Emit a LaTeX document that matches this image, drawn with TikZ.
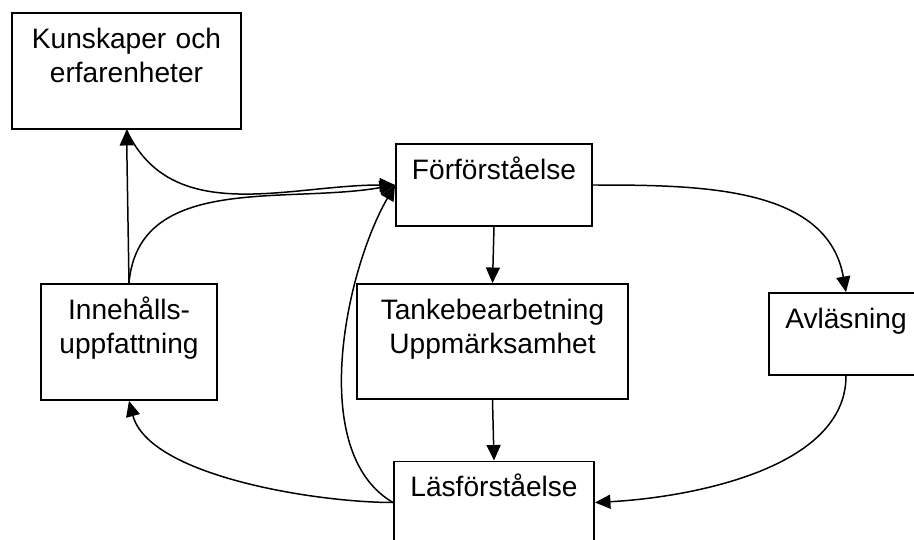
\documentclass[tikz,border=0pt]{standalone}
\usepackage{fontspec}
\setmainfont{Liberation Sans}
\usetikzlibrary{arrows.meta}

\begin{document}
\begin{tikzpicture}[x=0.02cm,y=0.02cm,
        ruta/.style 2 args={draw,line width=1.1pt,inner sep=0pt,align=center,
            font=\fontsize{16}{19.4}\selectfont,text width=#1,text height=0.70cm,text depth=#2},
        pil/.style={line width=0.85pt,-{Triangle[length=0.31cm,width=0.28cm]}}]
            \useasboundingbox (0,0) rectangle (914,539);
            \clip (0,0) rectangle (914,539);
            \node[ruta={4.58cm}{1.62cm}] (kunskap) at (126.5,468) {Kunskaper och\\erfarenheter};
            \node[ruta={3.92cm}{0.94cm}] (forforst) at (494,354) {Förförståelse};
            \node[ruta={3.52cm}{1.62cm}] (innehall) at (129,197) {Innehålls-\\uppfattning};
            \node[ruta={5.42cm}{1.60cm}] (tanke) at (492.5,197.5) {Tankebearbetning\\Uppmärksamhet};
            \node[ruta={3.08cm}{0.94cm}] (avlas) at (846,205) {Avläsning};
            \node[ruta={4.00cm}{0.94cm}] (lasforst) at (494,36.5) {Läsförståelse};
            \draw[pil] (innehall.north) -- (kunskap.south);
            \draw[pil] (kunskap.south) to[out=-65,in=180] (forforst.west);
            \draw[pil] (innehall.north) to[out=85,in=190] (forforst.west);
            \draw[pil] (lasforst.west) to[out=150,in=240,looseness=0.8] (forforst.west);
            \draw[pil] (lasforst.west) to[out=180,in=-75,looseness=0.7] (innehall.south);
            \draw[pil] (forforst.south) -- (tanke.north);
            \draw[pil] (tanke.south) -- (lasforst.north);
            \draw[pil] (forforst.east) to[out=0,in=100] (avlas.north);
            \draw[pil] (avlas.south) to[out=-90,in=3,looseness=0.85] (lasforst.east);
        \end{tikzpicture}
\end{document}
